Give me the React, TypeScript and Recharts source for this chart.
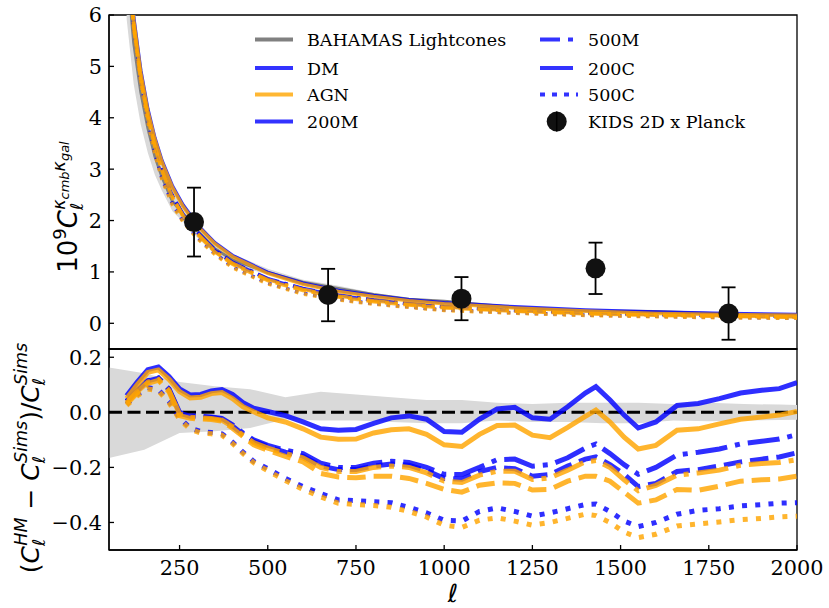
import React from 'react';
import { ComposedChart, Line, Area, Scatter, ErrorBar, XAxis, YAxis, ReferenceLine, ReferenceArea } from 'recharts';

const SERIF = '"DejaVu Serif", serif';
const SANS = '"DejaVu Sans", sans-serif';
const BLUE = '#0000ff';
const ORANGE = '#ffa500';

const xTicks = [250, 500, 750, 1000, 1250, 1500, 1750, 2000];

// upper panel: 10^9 C_l
const topEll = [100, 120, 140, 160, 180, 200, 230, 260, 300, 350, 400, 500, 600, 700, 800, 900, 1000, 1200, 1400, 1600, 1800, 2000];
const bahamasTop = [7.0, 5.46, 4.5, 3.8, 3.25, 2.85, 2.37, 2.13, 1.8, 1.45, 1.24, 0.99, 0.8, 0.68, 0.56, 0.47, 0.43, 0.31, 0.24, 0.23, 0.18, 0.153];
const bandLowTop = [5.92, 4.65, 3.87, 3.32, 2.89, 2.58, 2.18, 1.97, 1.67, 1.35, 1.16, 0.945, 0.78, 0.66, 0.54, 0.45, 0.41, 0.3, 0.23, 0.22, 0.175, 0.149];
const bandHighTop = [8.06, 6.26, 5.14, 4.32, 3.67, 3.21, 2.64, 2.36, 1.99, 1.59, 1.35, 1.06, 0.85, 0.73, 0.59, 0.49, 0.45, 0.32, 0.25, 0.24, 0.19, 0.157];
const dm200MTop = [7.44, 5.95, 4.92, 4.17, 3.61, 3.17, 2.67, 2.3, 1.92, 1.57, 1.32, 0.99, 0.78, 0.64, 0.54, 0.46, 0.4, 0.32, 0.26, 0.22, 0.19, 0.17];
const dm500MTop = [7.29, 5.8, 4.77, 4.04, 3.47, 3.01, 2.48, 2.12, 1.78, 1.43, 1.19, 0.87, 0.68, 0.55, 0.46, 0.39, 0.33, 0.26, 0.21, 0.18, 0.16, 0.14];
const dm200CTop = [7.28, 5.79, 4.76, 4.03, 3.46, 3.0, 2.47, 2.11, 1.77, 1.42, 1.18, 0.86, 0.67, 0.54, 0.45, 0.38, 0.32, 0.25, 0.2, 0.17, 0.15, 0.13];
const dm500CTop = [7.33, 5.8, 4.72, 3.95, 3.32, 2.82, 2.32, 1.99, 1.67, 1.36, 1.1, 0.78, 0.585, 0.467, 0.383, 0.32, 0.26, 0.205, 0.161, 0.136, 0.114, 0.104];
const agn200MTop = [7.37, 5.9, 4.87, 4.13, 3.58, 3.14, 2.64, 2.27, 1.9, 1.55, 1.3, 0.97, 0.76, 0.62, 0.52, 0.44, 0.38, 0.3, 0.24, 0.19, 0.17, 0.155];
const agn500MTop = [7.26, 5.78, 4.75, 4.02, 3.45, 2.99, 2.46, 2.1, 1.76, 1.41, 1.17, 0.85, 0.66, 0.53, 0.44, 0.37, 0.315, 0.245, 0.195, 0.165, 0.145, 0.125];
const agn200CTop = [7.24, 5.76, 4.73, 4.0, 3.43, 2.97, 2.44, 2.08, 1.74, 1.39, 1.15, 0.83, 0.64, 0.51, 0.42, 0.355, 0.3, 0.235, 0.185, 0.155, 0.135, 0.115];
const agn500CTop = [7.31, 5.78, 4.7, 3.93, 3.3, 2.8, 2.3, 1.97, 1.65, 1.34, 1.08, 0.765, 0.57, 0.455, 0.372, 0.31, 0.25, 0.195, 0.152, 0.127, 0.106, 0.097];

// KiDS 2D x Planck measurements
const kidsEll = [291, 671, 1049, 1429, 1806];
const kidsCl = [1.97, 0.55, 0.48, 1.07, 0.19];
const kidsErr = [0.67, 0.51, 0.42, 0.5, 0.51];

// lower panel: fractional difference to the simulations
const ratioEll = [100, 130, 160, 190, 220, 250, 280, 310, 340, 370, 400, 430, 460,
  500, 550, 600, 650, 700, 750, 800, 850, 900, 950, 1000, 1050, 1100, 1150, 1200, 1250, 1300, 1350, 1400,
  1430, 1470, 1510, 1550, 1600, 1660, 1720, 1780, 1840, 1900, 1950, 2000];
const dm200M = [0.06, 0.11, 0.155, 0.165, 0.13, 0.085, 0.063, 0.065, 0.078, 0.083, 0.065, 0.035, 0.015,
  0.003, -0.012, -0.035, -0.06, -0.065, -0.062, -0.04, -0.02, -0.013, -0.025, -0.07, -0.072, -0.025, 0.012, 0.018, -0.02, -0.025, 0.02, 0.07,
  0.093, 0.045, -0.01, -0.057, -0.035, 0.025, 0.032, 0.05, 0.07, 0.08, 0.086, 0.108];
const agn200M = [0.05, 0.1, 0.145, 0.154, 0.12, 0.075, 0.052, 0.055, 0.068, 0.072, 0.05, 0.02, 0.002,
  -0.02, -0.035, -0.06, -0.09, -0.098, -0.097, -0.075, -0.063, -0.06, -0.08, -0.118, -0.124, -0.08, -0.048, -0.046, -0.083, -0.092, -0.055, -0.015,
  0.008, -0.035, -0.09, -0.133, -0.12, -0.065, -0.06, -0.042, -0.025, -0.017, -0.01, 0.003];
const dm500M = [0.04, 0.08, 0.115, 0.125, 0.085, 0.0, -0.012, -0.015, -0.017, -0.022, -0.045, -0.075, -0.1,
  -0.12, -0.138, -0.15, -0.185, -0.2, -0.2, -0.185, -0.178, -0.182, -0.2, -0.225, -0.226, -0.2, -0.172, -0.17, -0.196, -0.19, -0.165, -0.13,
  -0.115, -0.15, -0.19, -0.225, -0.2, -0.155, -0.145, -0.133, -0.115, -0.105, -0.097, -0.081];
const dm200C = [0.04, 0.08, 0.114, 0.124, 0.083, -0.003, -0.014, -0.017, -0.019, -0.025, -0.05, -0.08, -0.105,
  -0.125, -0.145, -0.16, -0.195, -0.208, -0.208, -0.195, -0.188, -0.192, -0.212, -0.24, -0.243, -0.215, -0.2, -0.205, -0.232, -0.226, -0.195, -0.17,
  -0.162, -0.19, -0.225, -0.27, -0.258, -0.215, -0.208, -0.195, -0.18, -0.17, -0.162, -0.147];
const agn500M = [0.035, 0.075, 0.11, 0.12, 0.08, -0.006, -0.018, -0.02, -0.022, -0.028, -0.052, -0.083, -0.11,
  -0.13, -0.15, -0.165, -0.2, -0.215, -0.215, -0.2, -0.195, -0.2, -0.22, -0.25, -0.255, -0.228, -0.214, -0.214, -0.244, -0.238, -0.21, -0.18,
  -0.175, -0.2, -0.245, -0.285, -0.265, -0.228, -0.22, -0.21, -0.192, -0.186, -0.182, -0.172];
const agn200C = [0.03, 0.07, 0.105, 0.116, 0.075, -0.012, -0.022, -0.024, -0.026, -0.032, -0.058, -0.088, -0.118,
  -0.138, -0.16, -0.18, -0.222, -0.235, -0.238, -0.232, -0.232, -0.24, -0.258, -0.28, -0.29, -0.265, -0.256, -0.258, -0.282, -0.28, -0.25, -0.232,
  -0.232, -0.25, -0.29, -0.33, -0.318, -0.28, -0.283, -0.268, -0.25, -0.245, -0.242, -0.232];
const dm500C = [0.03, 0.065, 0.09, 0.082, 0.04, -0.02, -0.057, -0.07, -0.073, -0.078, -0.108, -0.145, -0.178,
  -0.205, -0.24, -0.27, -0.295, -0.318, -0.321, -0.325, -0.328, -0.345, -0.365, -0.392, -0.395, -0.36, -0.347, -0.36, -0.377, -0.365, -0.35, -0.335,
  -0.333, -0.36, -0.395, -0.415, -0.4, -0.37, -0.356, -0.35, -0.34, -0.335, -0.33, -0.328];
const agn500C = [0.025, 0.06, 0.085, 0.078, 0.035, -0.025, -0.062, -0.075, -0.078, -0.083, -0.113, -0.15, -0.183,
  -0.212, -0.248, -0.28, -0.307, -0.33, -0.335, -0.338, -0.345, -0.36, -0.38, -0.41, -0.418, -0.392, -0.383, -0.395, -0.41, -0.4, -0.385, -0.37,
  -0.375, -0.4, -0.435, -0.455, -0.443, -0.413, -0.405, -0.398, -0.39, -0.385, -0.38, -0.377];

// BAHAMAS lightcone scatter around zero
const bandEll = [50, 150, 250, 350, 450, 550, 650, 750, 850, 950, 1050, 1150, 1250, 1350, 1450, 1550, 1650, 1750, 1850, 1950, 2000];
const bandHigh = [0.163, 0.142, 0.11, 0.095, 0.084, 0.055, 0.075, 0.065, 0.055, 0.045, 0.045, 0.035, 0.03, 0.035, 0.035, 0.035, 0.03, 0.035, 0.03, 0.028, 0.027];
const bandLow = [-0.166, -0.136, -0.075, -0.069, -0.057, -0.025, -0.03, -0.03, -0.035, -0.04, -0.04, -0.03, -0.035, -0.035, -0.04, -0.04, -0.03, -0.032, -0.03, -0.028, -0.027];

const topRows = topEll.map((l, i) => ({
  l,
  band: [bandLowTop[i], bandHighTop[i]],
  bahamas: bahamasTop[i],
  dm200M: dm200MTop[i], dm500M: dm500MTop[i], dm200C: dm200CTop[i], dm500C: dm500CTop[i],
  agn200M: agn200MTop[i], agn500M: agn500MTop[i], agn200C: agn200CTop[i], agn500C: agn500CTop[i],
}));
const kidsRows = kidsEll.map((l, i) => ({ l, cl: kidsCl[i], err: kidsErr[i] }));
const ratioRows = ratioEll.map((l, i) => ({
  l,
  dm200M: dm200M[i], dm500M: dm500M[i], dm200C: dm200C[i], dm500C: dm500C[i],
  agn200M: agn200M[i], agn500M: agn500M[i], agn200C: agn200C[i], agn500C: agn500C[i],
}));
const bandRows = bandEll.map((l, i) => ({ l, band: [bandLow[i], bandHigh[i]] }));

// matplotlib-like dash patterns, scaled with line width
const dashFor = (style: string, w: number) => {
  if (style === 'dashdot') return `${6.4 * w} ${1.6 * w} ${w} ${1.6 * w}`;
  if (style === 'dashed') return `${3.7 * w} ${1.6 * w}`;
  if (style === 'dotted') return `${w} ${1.65 * w}`;
  return undefined;
};

const mass = [
  { key: '200M', style: 'solid' },
  { key: '500M', style: 'dashdot' },
  { key: '200C', style: 'dashed' },
  { key: '500C', style: 'dotted' },
];

const modelLines = (w: number) =>
  ['dm', 'agn'].flatMap((sim) =>
    mass.map((m) => (
      <Line
        key={sim + m.key}
        dataKey={sim + m.key}
        type="linear"
        stroke={sim === 'dm' ? BLUE : ORANGE}
        strokeOpacity={0.82}
        strokeWidth={w}
        strokeDasharray={dashFor(m.style, w)}
        strokeLinecap="butt"
        dot={false}
        activeDot={false}
        isAnimationActive={false}
      />
    ))
  );

const tickFont = { fontFamily: SERIF, fontSize: 20.8, fill: '#000' };
const axisStroke = { stroke: '#000', strokeWidth: 1.3 };

const fmtRatio = (v: number) => (v < 0 ? '\u2212' : '') + Math.abs(v).toFixed(1);

function Titles() {
  const sub = { fontSize: 17.5, fontStyle: 'italic' as const };
  return (
    <svg width={829} height={608} style={{ position: 'absolute', left: 0, top: 0, pointerEvents: 'none' }}>
      <g transform="translate(77, 207) rotate(-90)">
        <text textAnchor="middle" fontFamily={SANS} fontSize={26} fill="#000">
          <tspan>10</tspan>
          <tspan fontSize={18} dy={-11}>9</tspan>
          <tspan fontStyle="italic" dy={11}>C</tspan>
          <tspan {...sub} dy={6}>ℓ</tspan>
          <tspan {...sub} dx={-7} dy={-18}>κ</tspan>
          <tspan fontSize={13} fontStyle="italic" dy={4}>cmb</tspan>
          <tspan {...sub} dy={-4}>κ</tspan>
          <tspan fontSize={13} fontStyle="italic" dy={4}>gal</tspan>
        </text>
      </g>
      <g transform="translate(39, 458) rotate(-90)">
        <text textAnchor="middle" fontFamily={SANS} fontSize={25} fill="#000">
          <tspan>(</tspan>
          <tspan fontStyle="italic">C</tspan>
          <tspan {...sub} dy={6}>ℓ</tspan>
          <tspan {...sub} dx={-7} dy={-18}>HM</tspan>
          <tspan dy={12}> − </tspan>
          <tspan fontStyle="italic">C</tspan>
          <tspan {...sub} dy={6}>ℓ</tspan>
          <tspan {...sub} dx={-7} dy={-18}>Sims</tspan>
          <tspan dy={12}>)/</tspan>
          <tspan fontStyle="italic">C</tspan>
          <tspan {...sub} dy={6}>ℓ</tspan>
          <tspan {...sub} dx={-7} dy={-18}>Sims</tspan>
        </text>
      </g>
      <text x={453} y={602} textAnchor="middle" fontFamily={SANS} fontStyle="italic" fontSize={25} fill="#000">ℓ</text>
    </svg>
  );
}

const legendCol1 = [
  { label: 'BAHAMAS Lightcones', color: '#808080', dash: undefined as string | undefined },
  { label: 'DM', color: '#3333ff', dash: undefined },
  { label: 'AGN', color: '#ffb733', dash: undefined },
  { label: '200M', color: '#3333ff', dash: undefined },
];
const legendCol2 = [
  { label: '500M', color: '#3333ff', dash: '20 8 5 8' },
  { label: '200C', color: '#3333ff', dash: '33 30' },
  { label: '500C', color: '#3333ff', dash: '5 7' },
];
const legendRows = [39.5, 68, 94.5, 121.5];

function LegendBox() {
  return (
    <svg width={829} height={608} style={{ position: 'absolute', left: 0, top: 0, pointerEvents: 'none' }}>
      <g fontFamily={SERIF} fontSize={17.5} fill="#000">
        {legendCol1.map((e, i) => (
          <g key={e.label}>
            <line x1={255} x2={293} y1={legendRows[i]} y2={legendRows[i]} stroke={e.color} strokeWidth={4} strokeDasharray={e.dash} />
            <text x={307} y={legendRows[i] + 6.5}>{e.label}</text>
          </g>
        ))}
        {legendCol2.map((e, i) => (
          <g key={e.label}>
            <line x1={540} x2={578} y1={legendRows[i]} y2={legendRows[i]} stroke={e.color} strokeWidth={4} strokeDasharray={e.dash} />
            <text x={588} y={legendRows[i] + 6.5}>{e.label}</text>
          </g>
        ))}
        <circle cx={556.7} cy={legendRows[3]} r={10} fill="#111" />
        <line x1={556.7} x2={556.7} y1={legendRows[3] - 10} y2={legendRows[3] + 10} stroke="#000" strokeWidth={1.5} />
        <text x={588} y={legendRows[3] + 6.5}>KIDS 2D x Planck</text>
      </g>
    </svg>
  );
}

export default function App() {
  return (
    <div style={{ position: 'absolute', left: 0, top: 0, width: 829, height: 608, background: '#fff' }}>
      <div style={{ position: 'absolute', left: 0, top: 0 }}>
        <ComposedChart width={829} height={350} data={topRows} margin={{ top: 15, right: 32, bottom: 0, left: 0 }}>
          <XAxis dataKey="l" type="number" domain={[50, 2000]} ticks={xTicks} allowDataOverflow interval={0}
            height={1} tick={false} tickSize={-6} axisLine={axisStroke} tickLine={axisStroke} />
          <YAxis type="number" domain={[-0.5, 6]} ticks={[0, 1, 2, 3, 4, 5, 6]} allowDataOverflow interval={0}
            width={109} tickSize={-5} tickMargin={12} tick={tickFont} axisLine={axisStroke} tickLine={axisStroke} />
          <ReferenceArea x1={50} x2={2000} y1={-0.5} y2={6} fill="none" stroke="#000" strokeWidth={1.3} />
          <Area dataKey="band" type="linear" stroke="none" fill="#d9d9d9" fillOpacity={1} isAnimationActive={false} activeDot={false} />
          <Line dataKey="bahamas" type="linear" stroke="#808080" strokeWidth={3} dot={false} activeDot={false} isAnimationActive={false} />
          {modelLines(3.5)}
          <Scatter data={kidsRows} dataKey="cl" isAnimationActive={false}
            shape={(p: any) => <circle cx={p.cx} cy={p.cy} r={10} fill="#111" />}>
            <ErrorBar dataKey="err" direction="y" width={7} stroke="#000" strokeWidth={1.8} />
          </Scatter>
        </ComposedChart>
      </div>
      <div style={{ position: 'absolute', left: 0, top: 329 }}>
        <ComposedChart width={829} height={279} data={ratioRows} margin={{ top: 20, right: 32, bottom: 0, left: 0 }}>
          <XAxis dataKey="l" type="number" domain={[50, 2000]} ticks={xTicks} allowDataOverflow interval={0}
            height={58} tickSize={-5} tickMargin={15} tick={tickFont} axisLine={axisStroke} tickLine={axisStroke} />
          <YAxis type="number" domain={[-0.5, 0.23]} ticks={[-0.4, -0.2, 0, 0.2]} allowDataOverflow interval={0}
            width={109} tickSize={-5} tickMargin={12} tick={tickFont} tickFormatter={fmtRatio}
            axisLine={axisStroke} tickLine={axisStroke} />
          <ReferenceArea x1={50} x2={2000} y1={-0.5} y2={0.23} fill="none" stroke="#000" strokeWidth={1.3} />
          <Area data={bandRows} dataKey="band" type="linear" stroke="none" fill="#d9d9d9" fillOpacity={1} isAnimationActive={false} activeDot={false} />
          <ReferenceLine y={0} stroke="#000" strokeWidth={3} strokeDasharray="13 5.5" />
          {modelLines(5)}
        </ComposedChart>
      </div>
      <LegendBox />
      <Titles />
    </div>
  );
}
